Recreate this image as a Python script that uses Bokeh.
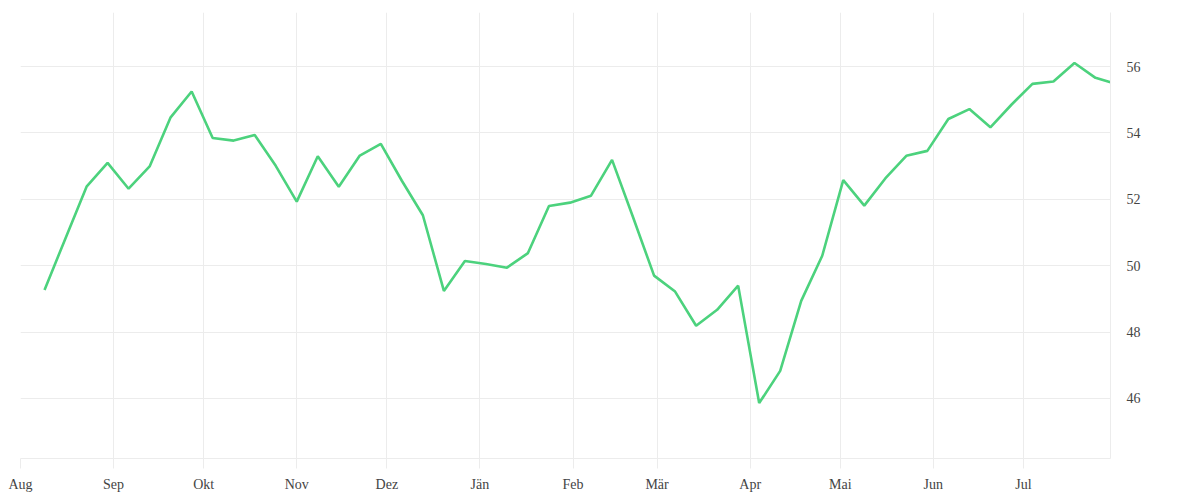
import pandas as pd
from bokeh.plotting import figure
from bokeh.models import ColumnDataSource, Range1d, FixedTicker
from bokeh.embed import file_html
from bokeh.resources import INLINE

dates = [
    "2022-08-09", "2022-08-16", "2022-08-23", "2022-08-30", "2022-09-06", "2022-09-13",
    "2022-09-20", "2022-09-27", "2022-10-04", "2022-10-11", "2022-10-18", "2022-10-25",
    "2022-11-01", "2022-11-08", "2022-11-15", "2022-11-22", "2022-11-29", "2022-12-06",
    "2022-12-13", "2022-12-20", "2022-12-27", "2023-01-03", "2023-01-10", "2023-01-17",
    "2023-01-24", "2023-01-31", "2023-02-07", "2023-02-14", "2023-02-21", "2023-02-28",
    "2023-03-07", "2023-03-14", "2023-03-21", "2023-03-28", "2023-04-04", "2023-04-11",
    "2023-04-18", "2023-04-25", "2023-05-02", "2023-05-09", "2023-05-16", "2023-05-23",
    "2023-05-30", "2023-06-06", "2023-06-13", "2023-06-20", "2023-06-27", "2023-07-04",
    "2023-07-11", "2023-07-18", "2023-07-25", "2023-07-30",
]
values = [
    49.27, 50.83, 52.38, 53.10, 52.32, 52.99, 54.47, 55.25, 53.85, 53.77, 53.94, 53.01,
    51.93, 53.30, 52.38, 53.32, 53.67, 52.56, 51.52, 49.24, 50.14, 50.05, 49.94, 50.38,
    51.80, 51.90, 52.11, 53.19, 51.46, 49.70, 49.22, 48.19, 48.67, 49.40, 45.86, 46.83,
    48.94, 50.30, 52.58, 51.81, 52.63, 53.31, 53.46, 54.42, 54.72, 54.17, 54.85, 55.48,
    55.55, 56.11, 55.66, 55.53,
]

# month ticks (Austrian German short names)
month_starts = [
    "2022-08-01", "2022-09-01", "2022-10-01", "2022-11-01", "2022-12-01", "2023-01-01",
    "2023-02-01", "2023-03-01", "2023-04-01", "2023-05-01", "2023-06-01", "2023-07-01",
]
month_labels = ["Aug", "Sep", "Okt", "Nov", "Dez", "Jän", "Feb", "Mär", "Apr", "Mai", "Jun", "Jul"]
y_ticks = [46, 48, 50, 52, 54, 56]

x_start = "2022-08-01"
x_end = "2023-07-30"
y_min, y_max = 44.19, 57.63


def to_ms(d):
    return pd.Timestamp(d).value / 1e6


source = ColumnDataSource(dict(x=[to_ms(d) for d in dates], y=values))

p = figure(width=1192, height=494, output_backend="svg", toolbar_location=None,
           y_axis_location="right",
           x_range=Range1d(to_ms(x_start), to_ms(x_end)),
           y_range=Range1d(y_min, y_max),
           min_border_left=20, min_border_top=12, min_border_right=82, min_border_bottom=36)
p.outline_line_color = None
p.background_fill_color = "white"

p.line("x", "y", source=source, line_color="#4cd27d", line_width=2.6)

tick_ms = [to_ms(d) for d in month_starts]
p.xaxis.ticker = FixedTicker(ticks=tick_ms)
p.xaxis.major_label_overrides = {t: lab for t, lab in zip(tick_ms, month_labels)}
p.yaxis.ticker = FixedTicker(ticks=y_ticks)

grid_color = "#ececec"
p.xgrid.grid_line_color = grid_color
p.ygrid.grid_line_color = grid_color

for ax in (p.xaxis[0], p.yaxis[0]):
    ax.axis_line_color = grid_color
    ax.minor_tick_line_color = None
    ax.major_tick_in = 0
    ax.major_label_text_font = "Liberation Serif"
    ax.major_label_text_font_size = "14px"
    ax.major_label_text_color = "#444444"

p.xaxis.major_tick_out = 10
p.xaxis.major_tick_line_color = grid_color
p.xaxis.major_label_standoff = 8
p.yaxis.major_tick_out = 0
p.yaxis.major_tick_line_color = None
p.yaxis.major_label_standoff = 16

open("out.html", "w").write(file_html(p, INLINE))
